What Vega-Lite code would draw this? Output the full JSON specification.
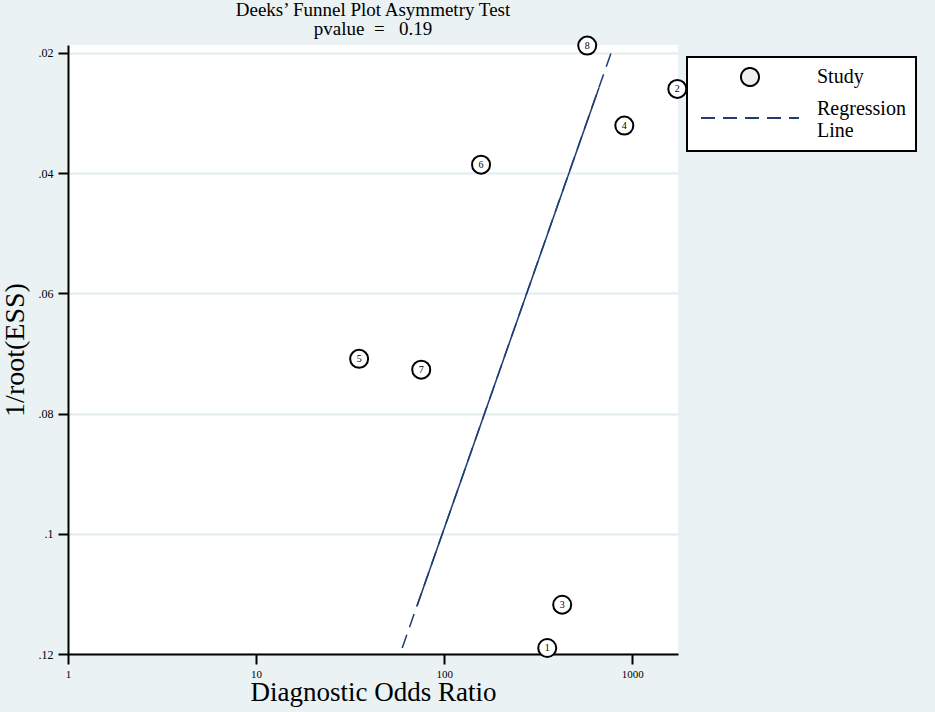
{
  "$schema": "https://vega.github.io/schema/vega-lite/v6.json",
  "width": 610,
  "height": 609,
  "autosize": {"type": "none"},
  "padding": {"left": 68, "top": 45, "right": 257, "bottom": 58},
  "background": "#eaf2f3",
  "title": {
    "text": ["Deeks’ Funnel Plot Asymmetry Test", "pvalue\u00a0\u00a0=\u00a0\u00a0\u00a00.19"],
    "font": "Liberation Serif",
    "fontSize": 19,
    "fontWeight": "normal",
    "lineHeight": 19,
    "color": "black",
    "anchor": "middle",
    "frame": "group",
    "offset": -6
  },
  "config": {
    "view": {"fill": "white", "stroke": null},
    "font": "Liberation Serif",
    "axis": {
      "domainColor": "black",
      "domainWidth": 2,
      "tickColor": "black",
      "tickWidth": 2,
      "tickSize": 10,
      "labelColor": "black",
      "labelFont": "Liberation Serif",
      "labelFontSize": 12,
      "titleFont": "Liberation Serif",
      "titleFontWeight": "normal",
      "titleColor": "black"
    },
    "legend": {
      "orient": "none",
      "legendX": 619,
      "legendY": 12,
      "padding": 10,
      "strokeColor": "black",
      "fillColor": "white",
      "symbolStrokeWidth": 2,
      "symbolOffset": 42,
      "labelFont": "Liberation Serif",
      "labelFontSize": 20,
      "labelColor": "black",
      "labelOffset": 56,
      "labelLineHeight": 19,
      "labelLimit": 300,
      "rowPadding": 8
    }
  },
  "datasets": {
    "studies": [
      {"id": "1", "dor": 353, "invess": 0.119, "kind": "Study"},
      {"id": "2", "dor": 1735, "invess": 0.026, "kind": "Study"},
      {"id": "3", "dor": 424, "invess": 0.1118, "kind": "Study"},
      {"id": "4", "dor": 907, "invess": 0.0321, "kind": "Study"},
      {"id": "5", "dor": 35.3, "invess": 0.0709, "kind": "Study"},
      {"id": "6", "dor": 157, "invess": 0.0386, "kind": "Study"},
      {"id": "7", "dor": 75.5, "invess": 0.0727, "kind": "Study"},
      {"id": "8", "dor": 576, "invess": 0.0188, "kind": "Study"}
    ],
    "reg": [
      {"dor": 59.8, "invess": 0.119, "kind": "Regression Line"},
      {"dor": 792, "invess": 0.019, "kind": "Regression Line"}
    ],
    "regsolid": [
      {"dor": 71.7, "invess": 0.112},
      {"dor": 665, "invess": 0.0258}
    ]
  },
  "encoding": {
    "x": {
      "field": "dor",
      "type": "quantitative",
      "scale": {"type": "log", "domain": [1, 1750], "nice": false},
      "axis": {
        "title": "Diagnostic Odds Ratio",
        "titleFontSize": 27,
        "titlePadding": 0,
        "values": [1, 10, 100, 1000],
        "format": "d",
        "grid": false,
        "labelFontSize": 11,
        "labelPadding": 4,
        "labelFlush": false
      }
    },
    "y": {
      "field": "invess",
      "type": "quantitative",
      "scale": {"domain": [0.0187, 0.12], "reverse": true, "nice": false, "zero": false},
      "axis": {
        "title": "1/root(ESS)",
        "titleFontSize": 28,
        "titlePadding": 9,
        "values": [0.02, 0.04, 0.06, 0.08, 0.1, 0.12],
        "labelExpr": "substring(format(datum.value, '.2~f'), 1)",
        "grid": true,
        "gridColor": "#e1eced",
        "gridWidth": 2,
        "labelPadding": 5
      }
    }
  },
  "layer": [
    {
      "data": {"name": "reg"},
      "mark": {"type": "line", "strokeWidth": 1.5},
      "encoding": {
        "stroke": {
          "field": "kind",
          "type": "nominal",
          "scale": {"domain": ["Study", "Regression Line"], "range": ["black", "#1f3d73"]},
          "legend": {"title": null, "labelExpr": "datum.label == 'Regression Line' ? ['Regression', 'Line'] : datum.label", "encode": {"legend": {"update": {"strokeWidth": {"value": 2}}}, "symbols": {"update": {"fill": {"value": "#eeeeee"}}}, "labels": {"update": {"dy": {"signal": "datum.value == 'Regression Line' ? -9.5 : 0"}}}}}
        },
        "strokeDash": {
          "field": "kind",
          "type": "nominal",
          "scale": {"domain": ["Study", "Regression Line"], "range": [[1, 0], [14, 8]]},
          "legend": {"title": null, "labelExpr": "datum.label == 'Regression Line' ? ['Regression', 'Line'] : datum.label", "encode": {"legend": {"update": {"strokeWidth": {"value": 2}}}, "symbols": {"update": {"fill": {"value": "#eeeeee"}}}, "labels": {"update": {"dy": {"signal": "datum.value == 'Regression Line' ? -9.5 : 0"}}}}}
        }
      }
    },
    {
      "data": {"name": "regsolid"},
      "mark": {"type": "line", "strokeWidth": 1.5, "stroke": "#1f3d73"},
      "encoding": {}
    },
    {
      "data": {"name": "studies"},
      "mark": {"type": "point", "filled": false, "fill": "white", "opacity": 1, "strokeWidth": 2, "clip": false},
      "encoding": {
        "shape": {
          "field": "kind",
          "type": "nominal",
          "scale": {"domain": ["Study", "Regression Line"], "range": ["circle", "M-5,0H5"]},
          "legend": {"title": null, "labelExpr": "datum.label == 'Regression Line' ? ['Regression', 'Line'] : datum.label", "encode": {"legend": {"update": {"strokeWidth": {"value": 2}}}, "symbols": {"update": {"fill": {"value": "#eeeeee"}}}, "labels": {"update": {"dy": {"signal": "datum.value == 'Regression Line' ? -9.5 : 0"}}}}}
        },
        "size": {
          "field": "kind",
          "type": "nominal",
          "scale": {"type": "ordinal", "domain": ["Study", "Regression Line"], "range": [324, 384]},
          "legend": {"title": null, "labelExpr": "datum.label == 'Regression Line' ? ['Regression', 'Line'] : datum.label", "encode": {"legend": {"update": {"strokeWidth": {"value": 2}}}, "symbols": {"update": {"fill": {"value": "#eeeeee"}}}, "labels": {"update": {"dy": {"signal": "datum.value == 'Regression Line' ? -9.5 : 0"}}}}}
        },
        "stroke": {
          "field": "kind",
          "type": "nominal",
          "scale": {"domain": ["Study", "Regression Line"], "range": ["black", "#1f3d73"]},
          "legend": {"title": null, "labelExpr": "datum.label == 'Regression Line' ? ['Regression', 'Line'] : datum.label", "encode": {"legend": {"update": {"strokeWidth": {"value": 2}}}, "symbols": {"update": {"fill": {"value": "#eeeeee"}}}, "labels": {"update": {"dy": {"signal": "datum.value == 'Regression Line' ? -9.5 : 0"}}}}}
        }
      }
    },
    {
      "data": {"name": "studies"},
      "mark": {"type": "text", "fontSize": 10, "font": "Liberation Serif", "color": "black", "align": "center", "baseline": "middle"},
      "encoding": {"text": {"field": "id"}}
    }
  ]
}
